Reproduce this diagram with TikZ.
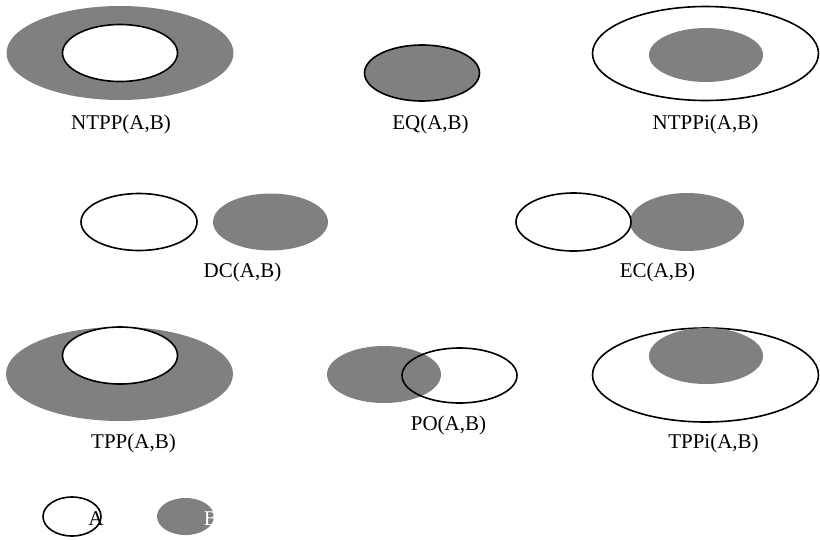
\documentclass[tikz,border=0pt]{standalone}
\usepackage{fontspec}
\setmainfont{Liberation Serif}
\usetikzlibrary{positioning}
\definecolor{regfill}{gray}{0.5}

\begin{document}
\begin{tikzpicture}[x=1pt, y=-1pt,
  rega/.style={draw=black, line width=1.6pt},
  regb/.style={fill=regfill},
  rlabel/.style={anchor=base, inner sep=0pt, font=\fontsize{21}{25}\selectfont}]
\useasboundingbox (0,0) rectangle (820,539);

% NTPP, EQ, NTPPi
\path [regb] (120,53) ellipse (113.5 and 47);
\draw [rega, fill=white] (120,53) ellipse (57.5 and 28.5);
\draw [rega, regb] (422,73) ellipse (57.5 and 28);
\draw [rega, fill=white] (705.5,53.5) ellipse (113 and 47);
\path [regb] (706,55) ellipse (57 and 27);
\node[rlabel] (ntpp) at (121,129) {NTPP(A,B)};
\node[rlabel] (eq) at (430.5,129) {EQ(A,B)};
\node[rlabel] (ntppi) at (705.5,129) {NTPPi(A,B)};

% DC, EC
\draw [rega] (139,222) ellipse (58 and 28.5);
\path [regb] (270.5,222) ellipse (57.5 and 28.5);
\path [regb] (687,222) ellipse (57 and 29);
\draw [rega] (573.5,222) ellipse (57.5 and 29);
\node[rlabel] (dc) at (242.5,277) {DC(A,B)};
\node[rlabel] (ec) at (657.5,277) {EC(A,B)};

% TPP, PO, TPPi
\path [regb] (119.5,374) ellipse (113.5 and 47);
\draw [rega, fill=white] (120,355.5) ellipse (57.5 and 28.5);
\path [regb] (384,374.5) ellipse (57 and 28.5);
\draw [rega] (459.5,375.5) ellipse (57.5 and 27.5);
\draw [rega, fill=white] (705.5,375) ellipse (113 and 47);
\path [regb] (706,356) ellipse (57 and 28);
\node[rlabel] (tpp) at (133.5,448) {TPP(A,B)};
\node[rlabel] (po) at (448.5,430) {PO(A,B)};
\node[rlabel] (tppi) at (713.5,448) {TPPi(A,B)};

% legend
\draw [rega] (72,516.5) ellipse (29 and 19.5);
\path [regb] (185.5,516.5) ellipse (28.5 and 18.5);
\node[rlabel] (la) at (96,525) {A};
\node[rlabel, text=white] (lb) at (211,525) {B};
\end{tikzpicture}
\end{document}
